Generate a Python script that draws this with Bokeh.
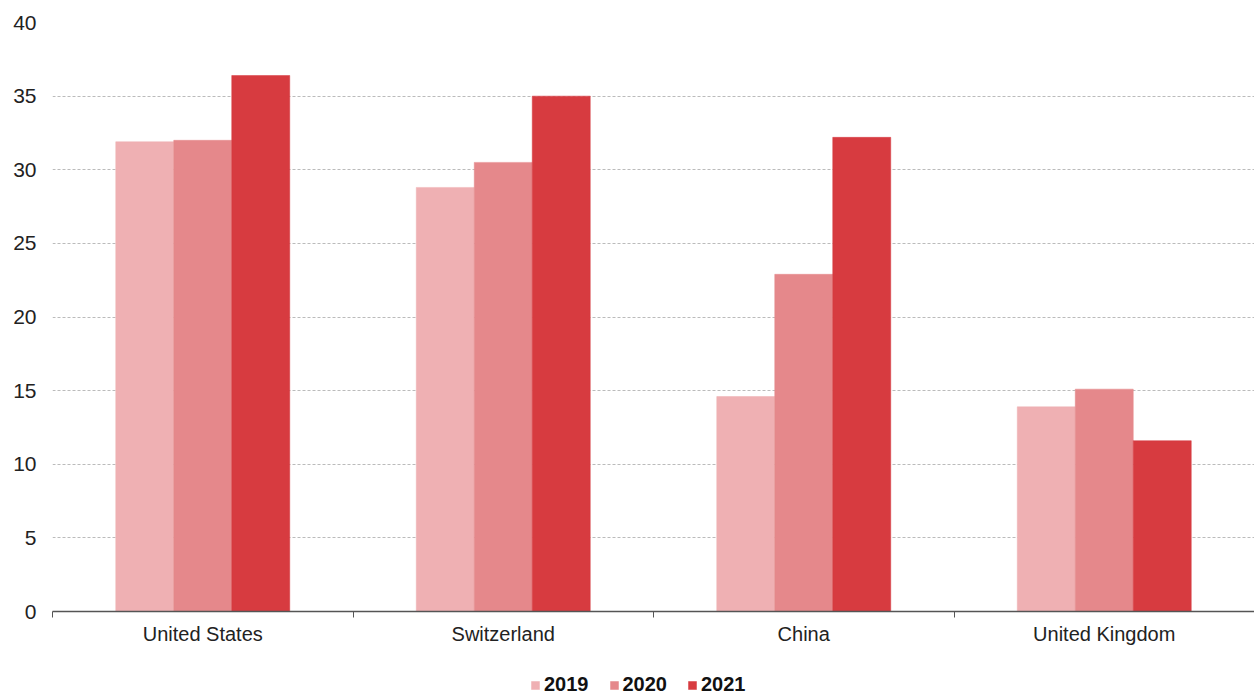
from bokeh.plotting import figure
from bokeh.layouts import column
from bokeh.models import ColumnDataSource, FixedTicker, Legend, LegendItem, Range1d
from bokeh.transform import dodge
from bokeh.embed import file_html
from bokeh.resources import INLINE

countries = ["United States", "Switzerland", "China", "United Kingdom"]
years = ["2019", "2020", "2021"]
v2019 = [31.9, 28.8, 14.6, 13.9]
v2020 = [32.0, 30.5, 22.9, 15.1]
v2021 = [36.4, 35.0, 32.2, 11.6]
colors = ["#efb0b3", "#e5888b", "#d73b40"]
y_ticks = [0, 5, 10, 15, 20, 25, 30, 35, 40]

idx = list(range(len(countries)))
src = ColumnDataSource(dict(i=idx, v2019=v2019, v2020=v2020, v2021=v2021))
cols = ["v2019", "v2020", "v2021"]
bw = 0.193

p = figure(frame_width=1202, frame_height=589, output_backend="svg", toolbar_location=None,
           x_range=Range1d(-0.5, len(countries) - 0.5), y_range=Range1d(0, 40),
           min_border_top=22, min_border_left=52, min_border_right=0, min_border_bottom=52)
p.outline_line_color = None

for k, (col, c) in enumerate(zip(cols, colors)):
    p.vbar(x=dodge("i", (k - 1) * bw, range=p.x_range), top=col, width=bw,
           source=src, fill_color=c, line_color=c, line_width=0.5)

xa = p.xaxis[0]
xa.ticker = FixedTicker(ticks=idx, minor_ticks=[i - 0.5 for i in range(len(countries) + 1)])
xa.major_label_overrides = {i: c for i, c in enumerate(countries)}
xa.major_tick_out = 0
xa.major_tick_in = 0
xa.minor_tick_in = 0
xa.minor_tick_out = 6
xa.minor_tick_line_color = "#555555"
xa.axis_line_color = "#555555"
xa.axis_line_width = 1.5
xa.major_label_text_font = "Liberation Sans"
xa.major_label_text_font_size = "20px"
xa.major_label_text_color = "#222222"
xa.major_label_standoff = 5

ya = p.yaxis[0]
ya.ticker = FixedTicker(ticks=y_ticks)
ya.axis_line_color = None
ya.major_tick_line_color = None
ya.minor_tick_line_color = None
ya.major_label_text_font = "Liberation Sans"
ya.major_label_text_font_size = "21px"
ya.major_label_text_color = "#222222"
ya.major_label_standoff = 10

p.xgrid.grid_line_color = None
p.ygrid.grid_line_color = "#bbbbbb"
p.ygrid.grid_line_dash = "3 2"
p.ygrid.grid_line_width = 1

# legend strip below the chart (its own renderers sit outside its visible range)
p2 = figure(width=1254, height=32, output_backend="svg", toolbar_location=None,
            x_range=p.x_range, y_range=Range1d(1000, 1001), min_border=0)
p2.axis.visible = False
p2.grid.visible = False
p2.outline_line_color = None
rs = []
for k, (col, c) in enumerate(zip(cols, colors)):
    rs.append(p2.vbar(x=dodge("i", (k - 1) * bw, range=p2.x_range), top=col, width=bw,
                      source=src, fill_color=c, line_color=c, line_width=0.5))

legend = Legend(items=[LegendItem(label=y, renderers=[r]) for y, r in zip(years, rs)],
                orientation="horizontal", location=(478, -1))
legend.label_text_font = "Liberation Sans"
legend.label_text_font_style = "bold"
legend.label_text_font_size = "20px"
legend.label_text_color = "#111111"
legend.glyph_width = 10
legend.glyph_height = 10
legend.label_standoff = 4
legend.spacing = 20
legend.border_line_color = None
legend.background_fill_alpha = 0
legend.padding = 0
legend.margin = 0
p2.add_layout(legend, "center")

layout = column(p, p2, spacing=0)
open("out.html", "w").write(file_html(layout, INLINE))
